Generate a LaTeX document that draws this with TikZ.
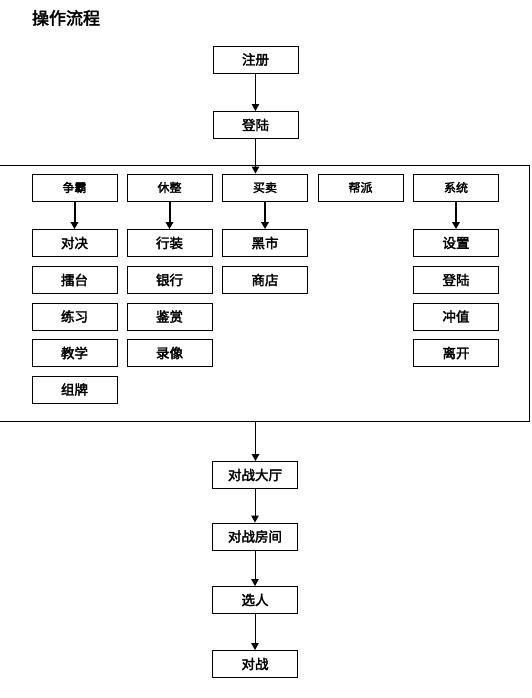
\documentclass[tikz,border=0pt]{standalone}
\usepackage{fontspec}
\setmainfont{Noto Sans CJK SC}[AutoFakeBold=2.5]
\usetikzlibrary{arrows.meta}

\begin{document}
\begin{tikzpicture}[x=1pt, y=-1pt, line width = 0.9pt]
%\draw[very thin, color = gray](0, 0) grid (531, 698);
\tikzstyle{block} = [draw, rectangle, minimum width = 85pt, minimum height = 27pt,
  inner sep = 0pt, font = \bfseries\fontsize{13.5}{15}\selectfont];
\tikzstyle{head} = [block, font = \bfseries\fontsize{12}{14}\selectfont];
\tikzstyle{line} = [draw, -{Triangle[length = 7pt, width = 7.5pt]}]
\tikzstyle{thickline} = [line, line width = 2pt]
\useasboundingbox (0, 0) rectangle (531, 698);
\node [font = \bfseries\fontsize{17}{19}\selectfont] at (66, 18) (title) {操作流程};
\node [block] at (255.5, 59.5) (zhuce) {注册};
\node [block] at (255.5, 125) (denglu) {登陆};
% frame
\draw (-1, 165) rectangle (529, 421);
\coordinate (framebot) at (255.5, 421);
\node [head] at (74.5, 187.5) (zhengba) {争霸};
\node [head] at (169.5, 187.5) (xiuzheng) {休整};
\node [head] at (265, 187.5) (maimai) {买卖};
\node [head] at (360.5, 187.5) (bangpai) {帮派};
\node [head] at (456, 187.5) (xitong) {系统};
\node [block] at (74.5, 243) (duijue) {对决};
\node [block] at (74.5, 280) (leitai) {擂台};
\node [block] at (74.5, 316.5) (lianxi) {练习};
\node [block] at (74.5, 353) (jiaoxue) {教学};
\node [block] at (74.5, 389.5) (zupai) {组牌};
\node [block] at (169.5, 243) (xingzhuang) {行装};
\node [block] at (169.5, 280) (yinhang) {银行};
\node [block] at (169.5, 316.5) (jianshang) {鉴赏};
\node [block] at (169.5, 353) (luxiang) {录像};
\node [block] at (265, 243) (heishi) {黑市};
\node [block] at (265, 280) (shangdian) {商店};
\node [block] at (456, 243) (shezhi) {设置};
\node [block] at (456, 280) (denglutwo) {登陆};
\node [block] at (456, 316.5) (chongzhi) {冲值};
\node [block] at (456, 353) (likai) {离开};
\node [block] at (255, 475) (dating) {对战大厅};
\node [block] at (255, 536.5) (fangjian) {对战房间};
\node [block] at (255, 600) (xuanren) {选人};
\node [block] at (255, 664) (duizhan) {对战};
\path [line] (zhuce) -- (denglu);
\path [line] (denglu) -- (denglu |- maimai.north);
\path [thickline] (zhengba) -- (duijue);
\path [thickline] (xiuzheng) -- (xingzhuang);
\path [thickline] (maimai) -- (heishi);
\path [thickline] (xitong) -- (shezhi);
\path [line] (framebot) -- (framebot |- dating.north);
\path [line] (dating) -- (fangjian);
\path [line] (fangjian) -- (xuanren);
\path [line] (xuanren) -- (duizhan);
\end{tikzpicture}
\end{document}
